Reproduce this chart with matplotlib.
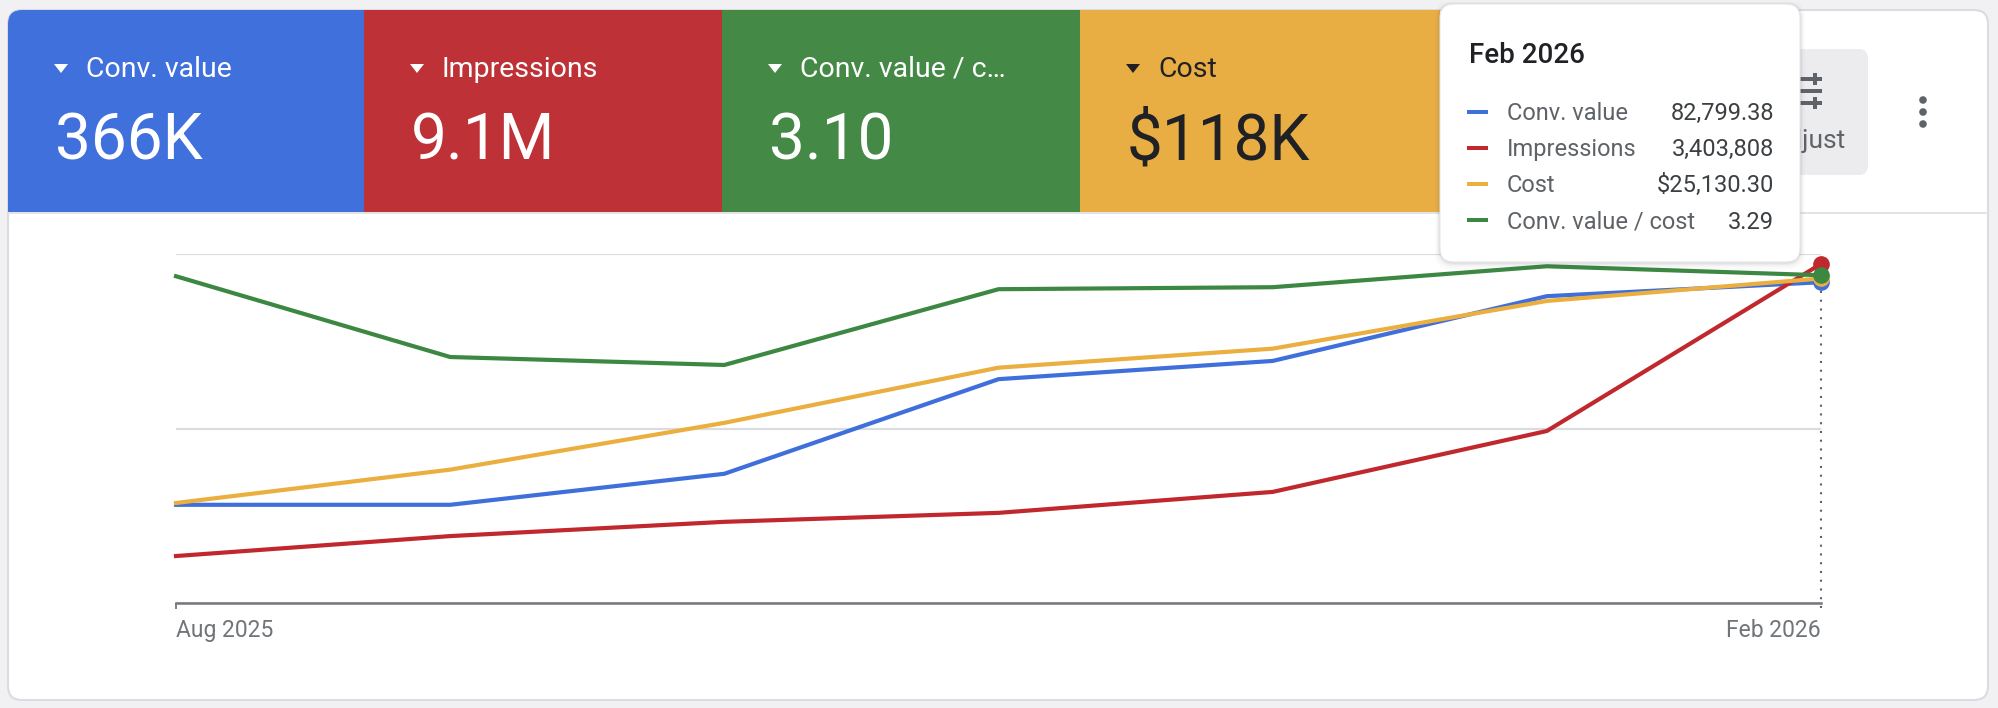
import numpy as np
import matplotlib
matplotlib.use('Agg')
import matplotlib.pyplot as plt
from matplotlib.patches import FancyBboxPatch, Rectangle, Polygon, Circle

plt.rcParams['font.family'] = ['Roboto', 'DejaVu Sans']

# ---------------- data ----------------
months = ['Aug 2025', 'Sep 2025', 'Oct 2025', 'Nov 2025', 'Dec 2025', 'Jan 2026', 'Feb 2026']
conv_value = [25400, 25400, 33400, 57800, 62500, 79200, 82799.38]
impressions = [474000, 674000, 817000, 907000, 1117000, 1728000, 3403808]
cost = [7760, 10340, 13960, 18230, 19700, 23390, 25130.30]
conv_value_per_cost = [3.28, 2.47, 2.39, 3.15, 3.17, 3.38, 3.29]

tile_names = ['Conv. value', 'Impressions', 'Conv. value / c\u2026', 'Cost']
tile_totals = ['366K', '9.1M', '3.10', '$118K']
legend_names = ['Conv. value', 'Impressions', 'Cost', 'Conv. value / cost']
axis_max = {'conv': 90000, 'impr': 3500000, 'cost': 27000, 'roas': 3.5}

# ---------------- style ----------------
C_BLUE, C_RED, C_YEL, C_GRN = '#3f6fdb', '#c0282e', '#ebaf3f', '#3c8843'
T_BLUE, T_RED, T_GRN, T_YEL = '#4070dc', '#be3136', '#448946', '#e9ae43'
GRID = '#dadce0'
GRAY = '#5f6368'

W, H = 1998, 708
fig = plt.figure(figsize=(W / 100, H / 100), dpi=100)
fig.patch.set_facecolor('#f1f1f4')

bg = fig.add_axes([0, 0, 1, 1])
bg.set_xlim(0, W)
bg.set_ylim(H, 0)
bg.axis('off')
bg.set_zorder(0)

card = FancyBboxPatch((8, 10), 1980, 690, boxstyle='round,pad=0,rounding_size=14',
                      fc='white', ec='#dcdce0', lw=1.5)
bg.add_patch(card)

tile_left = [8, 364, 722, 1080]
tile_right = [364, 722, 1080, 1440]
tile_fill = [T_BLUE, T_RED, T_GRN, T_YEL]
tile_text = ['white', 'white', 'white', '#202124']
for name, total, x0, x1, fc, tc in zip(tile_names, tile_totals, tile_left, tile_right, tile_fill, tile_text):
    r = Rectangle((x0, 10), x1 - x0, 203, fc=fc, ec='none')
    bg.add_patch(r)
    r.set_clip_path(card)
    bg.add_patch(Polygon([(x0 + 46, 64), (x0 + 60, 64), (x0 + 53, 73)], closed=True, fc=tc, ec='none'))
    bg.text(x0 + 78, 77, name, fontsize=20.5, color=tc, va='baseline', ha='left')
    bg.text(x0 + 47, 160, total, fontsize=46, color=tc, va='baseline', ha='left')

# divider under tiles
bg.add_patch(Rectangle((8, 212), 1980, 2, fc='#e3e3e6', ec='none'))

# Adjust button (partly hidden by tooltip)
bg.add_patch(FancyBboxPatch((1760, 49), 108, 126, boxstyle='round,pad=0,rounding_size=9',
                            fc='#ececef', ec='none'))
for yy, xk in [(79, 1815), (91, 1797), (103, 1815)]:
    bg.add_patch(Rectangle((1790, yy - 1.6), 32, 3.2, fc=GRAY, ec='none'))
    bg.add_patch(Rectangle((xk - 2, yy - 6), 4, 12, fc=GRAY, ec='none'))
bg.text(1846, 148, 'Adjust', fontsize=19, color=GRAY, ha='right', va='baseline')

# more-options dots
for yy in (100, 112, 124):
    bg.add_patch(Circle((1923, yy), 3.8, fc=GRAY, ec='none'))

# ---------------- chart ----------------
x = np.arange(len(months))
left, right = 176, 1821
top, bottom = 254.3, 603.3
pos = [left / W, (H - bottom) / H, (right - left) / W, (bottom - top) / H]

ax = fig.add_axes(pos)
ax.set_zorder(2)
ax.patch.set_alpha(0)
ax.set_xlim(x[0], x[-1])
ax.set_ylim(0, axis_max['conv'])


def twin(ymax):
    t = ax.twinx()
    t.set_ylim(0, ymax)
    t.axis('off')
    return t


ax_imp = twin(axis_max['impr'])
ax_cost = twin(axis_max['cost'])
ax_roas = twin(axis_max['roas'])

ax.set_yticks([0, axis_max['conv'] / 2, axis_max['conv']])
ax.yaxis.grid(True, color=GRID, lw=1.6)
ax.set_axisbelow(True)
ax.tick_params(axis='y', left=False, right=False, labelleft=False, labelright=False)
for s in ['top', 'right', 'left']:
    ax.spines[s].set_visible(False)
ax.spines['bottom'].set_color('#74777c')
ax.spines['bottom'].set_linewidth(1.8)
ax.set_xticks([x[0], x[-1]], labels=[months[0], months[-1]])
ax.tick_params(axis='x', length=4, width=1.3, color='#74777c', pad=7,
               labelsize=16.5, labelcolor='#70757a')
xl = ax.get_xticklabels()
xl[0].set_ha('left')
xl[-1].set_ha('right')
ax.xaxis.get_major_ticks()[-1].tick1line.set_visible(False)

# hover cursor at the last month
ax.axvline(x[-1], ymin=-0.014, ymax=0.92, color=GRAY, lw=1.5, ls=(0, (1, 3.2)), clip_on=False)

LW = 3.0
MS = 11

ax.plot(x, conv_value, color=C_BLUE, lw=LW, clip_on=False)
ax.plot(x[-1], conv_value[-1], 'o', color=C_BLUE, ms=MS, clip_on=False)

ax_cost.plot(x, cost, color=C_YEL, lw=LW, clip_on=False)
ax_imp.plot(x, impressions, color=C_RED, lw=LW, clip_on=False)
ax_roas.plot(x, conv_value_per_cost, color=C_GRN, lw=LW, clip_on=False)
ax_cost.plot(x[-1], cost[-1], 'o', color=C_YEL, ms=MS, clip_on=False, zorder=5)
ax_imp.plot(x[-1], impressions[-1], 'o', color=C_RED, ms=MS, clip_on=False, zorder=5)
ax_roas.plot(x[-1], conv_value_per_cost[-1], 'o', color=C_GRN, ms=MS, clip_on=False, zorder=5)

# ---------------- tooltip ----------------
ov = fig.add_axes([0, 0, 1, 1])
ov.set_zorder(10)
ov.set_xlim(0, W)
ov.set_ylim(H, 0)
ov.axis('off')
ov.patch.set_alpha(0)

tx0, ty0, tx1, ty1 = 1440, 4, 1800, 262
for k, a in [(8, 0.025), (5, 0.04), (3, 0.06), (1.5, 0.08)]:
    ov.add_patch(FancyBboxPatch((tx0 - k * 0.6, ty0 - k * 0.3), tx1 - tx0 + k * 1.2, ty1 - ty0 + k * 1.2,
                                boxstyle='round,pad=0,rounding_size=16', fc='#3c4043', ec='none', alpha=a))
ov.add_patch(FancyBboxPatch((tx0, ty0), tx1 - tx0, ty1 - ty0, boxstyle='round,pad=0,rounding_size=14',
                            fc='white', ec='#e8e8eb', lw=0.8))
ov.text(1469, 63, months[-1], fontsize=20, fontweight='medium', color='#202124', va='baseline')

tip_vals = [f'{conv_value[-1]:,.2f}', f'{impressions[-1]:,.0f}', f'${cost[-1]:,.2f}', f'{conv_value_per_cost[-1]:.2f}']
tip_cols = [C_BLUE, C_RED, C_YEL, C_GRN]
for i, (nm, v, c) in enumerate(zip(legend_names, tip_vals, tip_cols)):
    yb = 120 + i * 36.2
    ov.add_patch(Rectangle((1467, yb - 10.5), 21, 4, fc=c, ec='none'))
    ov.text(1507, yb, nm, fontsize=17, color=GRAY, va='baseline', ha='left')
    ov.text(1774, yb, v, fontsize=17, color='#3c4043', va='baseline', ha='right')

fig.savefig('out.png', dpi=100, facecolor=fig.get_facecolor())
